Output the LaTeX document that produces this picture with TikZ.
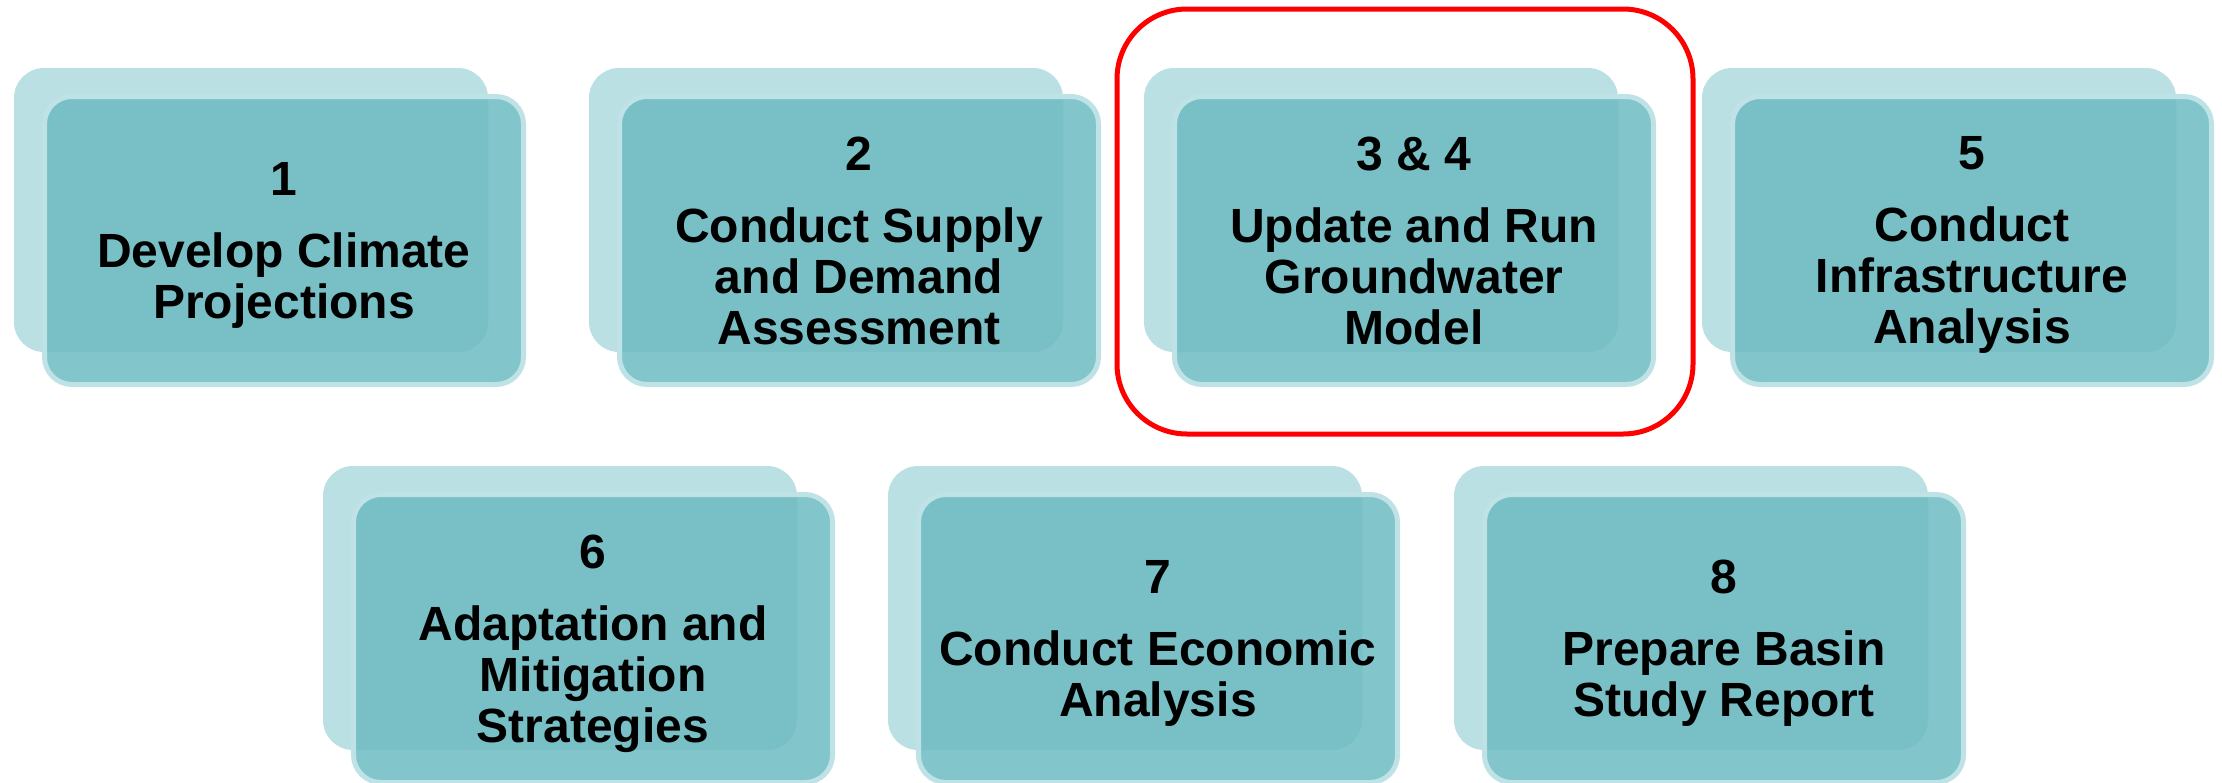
\documentclass[tikz,border=0pt]{standalone}
\usepackage{fontspec}
\setmainfont{Liberation Sans}
\definecolor{backc}{RGB}{187,224,227}
\definecolor{frontc}{RGB}{111,188,194}
\definecolor{bordc}{RGB}{190,226,229}
\definecolor{selred}{RGB}{255,0,0}
\begin{document}
\begin{tikzpicture}[x=1pt,y=-1pt,
  backbox/.style={rectangle, fill=backc, minimum width=474pt, minimum height=284pt, rounded corners=30pt, inner sep=0pt},
  frontbox/.style={rectangle, draw=bordc, line width=5pt, fill=frontc, fill opacity=0.87, minimum width=479pt, minimum height=288pt, rounded corners=27.5pt, inner sep=0pt},
  lbl/.style={font=\bfseries\fontsize{48}{51}\selectfont, align=center, inner sep=0pt, anchor=north, text=black},
  selbox/.style={rectangle, draw=selred, line width=5pt, minimum width=576pt, minimum height=425pt, rounded corners=70pt, inner sep=0pt}]
\useasboundingbox (0,0) rectangle (2222,782);
% row 1
\node[backbox] (b1) at (251,210) {};
\node[frontbox] (f1) at (284,240.5) {};
\node[lbl] (t1) at ([yshift=78.5pt]f1.center) {1\\[21pt]Develop Climate\\Projections};
\node[backbox] (b2) at (826,210) {};
\node[frontbox] (f2) at (859,240.5) {};
\node[lbl] (t2) at ([yshift=104pt]f2.center) {2\\[21pt]Conduct Supply\\and Demand\\Assessment};
\node[backbox] (b3) at (1381,210) {};
\node[frontbox] (f3) at (1414,240.5) {};
\node[lbl] (t3) at ([yshift=104pt]f3.center) {3 \& 4\\[21pt]Update and Run\\Groundwater\\Model};
\node[backbox] (b5) at (1939,210) {};
\node[frontbox] (f5) at (1972,240.5) {};
\node[lbl] (t5) at ([yshift=104pt]f5.center) {5\\[21pt]Conduct\\Infrastructure\\Analysis};
% row 2
\node[backbox] (b6) at (560,608) {};
\node[frontbox] (f6) at (593,638.5) {};
\node[lbl] (t6) at ([yshift=104pt]f6.center) {6\\[21pt]Adaptation and\\Mitigation\\Strategies};
\node[backbox] (b7) at (1125,608) {};
\node[frontbox] (f7) at (1158,638.5) {};
\node[lbl] (t7) at ([yshift=78.5pt]f7.center) {7\\[21pt]Conduct Economic\\Analysis};
\node[backbox] (b8) at (1691,608) {};
\node[frontbox] (f8) at (1724,638.5) {};
\node[lbl] (t8) at ([yshift=78.5pt]f8.center) {8\\[21pt]Prepare Basin\\Study Report};
% highlight
\node[selbox] (sel) at (1405,221.5) {};
\end{tikzpicture}
\end{document}
